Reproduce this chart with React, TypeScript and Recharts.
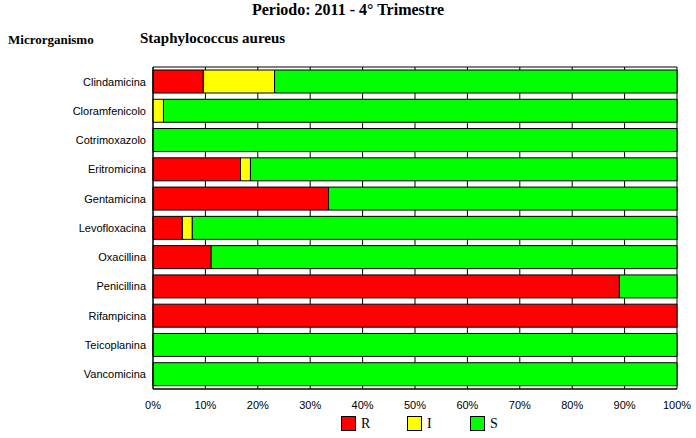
import { BarChart, Bar, XAxis, YAxis, CartesianGrid } from 'recharts';

const CATEGORIES = [
  'Clindamicina', 'Cloramfenicolo', 'Cotrimoxazolo', 'Eritromicina', 'Gentamicina',
  'Levofloxacina', 'Oxacillina', 'Penicillina', 'Rifampicina', 'Teicoplanina', 'Vancomicina',
];
const R_VALUES = [9.6, 0, 0, 16.7, 33.5, 5.6, 11.1, 89.0, 100, 0, 0];
const I_VALUES = [13.6, 2.0, 0, 1.9, 0, 1.9, 0, 0, 0, 0, 0];
const S_VALUES = [76.8, 98.0, 100, 81.4, 66.5, 92.5, 88.9, 11.0, 0, 100, 100];
const X_TICKS = [0, 10, 20, 30, 40, 50, 60, 70, 80, 90, 100];

const SERIES = [
  { key: 'R', color: '#ff0000' },
  { key: 'I', color: '#ffff00' },
  { key: 'S', color: '#00ff00' },
];

const data = CATEGORIES.map((name, i) => ({
  name,
  R: R_VALUES[i],
  I: I_VALUES[i],
  S: S_VALUES[i],
}));

const serif = '"Liberation Serif", "Times New Roman", serif';
const sans = '"Liberation Sans", Arial, sans-serif';

export default function App() {
  return (
    <div style={{ position: 'absolute', left: 0, top: 0, width: 696, height: 438, background: '#fff' }}>
      <div style={{ position: 'absolute', top: 1, left: 0, width: 696, textAlign: 'center', fontFamily: serif, fontWeight: 'bold', fontSize: 16 }}>
        Periodo: 2011 - 4° Trimestre
      </div>
      <div style={{ position: 'absolute', top: 32, left: 8, fontFamily: serif, fontWeight: 'bold', fontSize: 13 }}>
        Microrganismo
      </div>
      <div style={{ position: 'absolute', top: 30, left: 140, fontFamily: serif, fontWeight: 'bold', fontSize: 15 }}>
        Staphylococcus aureus
      </div>
      <BarChart
        width={696}
        height={438}
        data={data}
        layout="vertical"
        margin={{ top: 67, right: 19, left: 0, bottom: 19 }}
      >
        <CartesianGrid
          stroke="#000"
          strokeOpacity={1}
          horizontalCoordinatesGenerator={({ offset }: any) => [offset.top, offset.top + offset.height]}
        />
        <XAxis
          type="number"
          domain={[0, 100]}
          ticks={X_TICKS}
          tickFormatter={(v) => `${v}%`}
          height={30}
          axisLine={{ stroke: '#000' }}
          tickLine={false}
          tickSize={6}
          tickMargin={6}
          tick={{ fill: '#000', fontSize: 11, fontFamily: sans }}
          interval={0}
        />
        <YAxis
          type="category"
          dataKey="name"
          width={153}
          axisLine={{ stroke: '#000' }}
          tickLine={false}
          tickSize={5}
          tickMargin={2}
          tick={{ fill: '#000', fontSize: 11, fontFamily: sans }}
          interval={0}
        />
        {SERIES.map((s) => (
          <Bar
            key={s.key}
            dataKey={s.key}
            stackId="a"
            fill={s.color}
            stroke="#000"
            strokeWidth={1}
            barSize={23}
            isAnimationActive={false}
          />
        ))}
      </BarChart>
      <div style={{ position: 'absolute', top: 416, left: 341, display: 'flex' }}>
        {SERIES.map((s, i) => (
          <div key={s.key} style={{ display: 'flex', alignItems: 'center', width: i === 0 ? 66 : 63 }}>
            <div style={{ width: 13, height: 13, background: s.color, border: '1px solid #000' }} />
            <span style={{ marginLeft: 5, fontFamily: serif, fontSize: 14, lineHeight: '15px' }}>{s.key}</span>
          </div>
        ))}
      </div>
    </div>
  );
}
